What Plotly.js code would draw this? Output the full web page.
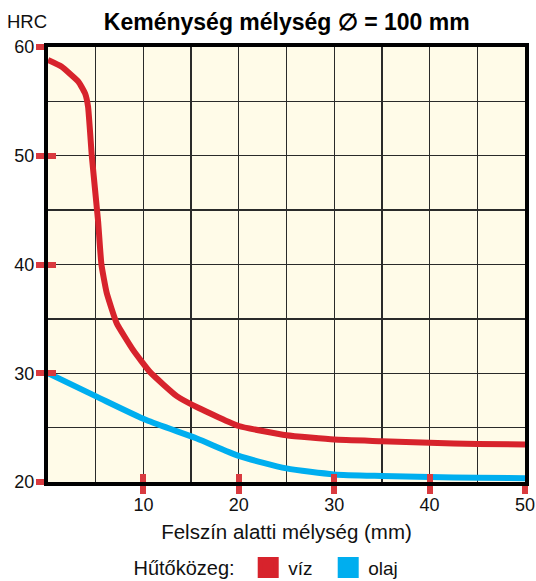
<!DOCTYPE html>
<html>
<head>
<meta charset="utf-8">
<script src="https://cdn.plot.ly/plotly-3.0.1.min.js"></script>
<style>html,body{margin:0;padding:0;background:#fff;}#chart{width:536px;height:581px;}</style>
</head>
<body>
<div id="chart"></div>
<script>
// Data
const depthViz = [0, 1.4, 3.2, 3.9, 4.2, 4.6, 5.25, 5.6, 6.15, 7.2, 8.95, 10.7, 13.5, 15.8, 20, 25, 30, 35, 40, 45, 50];
const hrcViz   = [58.8, 58.2, 56.8, 55.7, 54.5, 49.9, 44.0, 40.0, 37.4, 34.6, 32.1, 30.1, 27.9, 26.8, 25.15, 24.3, 23.9, 23.75, 23.6, 23.5, 23.45];
const depthOlaj = [0, 5.1, 10.3, 15.6, 20, 25, 30, 35, 40, 45, 50];
const hrcOlaj   = [30.0, 27.85, 25.7, 24.0, 22.4, 21.25, 20.7, 20.55, 20.45, 20.4, 20.35];
const seriesNames = ['víz', 'olaj'];
const xTickVals = [10, 20, 30, 40, 50];
const yTickVals = [20, 30, 40, 50, 60];

const RED = '#d7232c';
const BLUE = '#00aeef';
const TICKRED = '#d93a3f';
const FONT = 'Liberation Sans, Arial, Helvetica, sans-serif';

const traces = [
  {x: depthViz, y: hrcViz, mode: 'lines', line: {color: RED, width: 6, shape: 'spline', smoothing: 0.4}, showlegend: false, hoverinfo: 'skip'},
  {x: depthOlaj, y: hrcOlaj, mode: 'lines', line: {color: BLUE, width: 6, shape: 'spline', smoothing: 0.6}, showlegend: false, hoverinfo: 'skip'},
  {x: [null], y: [null], xaxis: 'x2', yaxis: 'y2', mode: 'markers', name: seriesNames[0],
   marker: {symbol: 'square', size: 16, color: RED, line: {color: RED, width: 5}}},
  {x: [null], y: [null], xaxis: 'x2', yaxis: 'y2', mode: 'markers', name: seriesNames[1],
   marker: {symbol: 'square', size: 16, color: BLUE, line: {color: BLUE, width: 5}}}
];

const gridColor = '#2a2a2a';
const layout = {
  width: 536, height: 581,
  margin: {l: 48, r: 11, t: 47, b: 99, autoexpand: false},
  paper_bgcolor: '#ffffff',
  plot_bgcolor: '#fffbe8',
  font: {family: FONT, color: '#111', size: 17},
  title: {text: '<b>Keménység mélység ∅ = 100 mm</b>', x: 0.535, xref: 'container', xanchor: 'center',
          y: 1 - 22/581, yref: 'container', yanchor: 'middle',
          font: {family: FONT, size: 23, color: '#000'}},
  xaxis: {
    range: [0, 50], tickmode: 'array', tickvals: xTickVals, ticktext: xTickVals.map(String),
    ticks: 'outside', ticklen: 8, tickwidth: 6, tickcolor: TICKRED, ticklabelstandoff: -5,
    showline: true, linecolor: '#000', linewidth: 4, mirror: true,
    showgrid: true, gridcolor: gridColor, gridwidth: 1.3, zeroline: false,
    minor: {tickmode: 'linear', tick0: 0, dtick: 5, showgrid: true, gridcolor: gridColor, gridwidth: 1.3, ticks: ''},
    tickfont: {size: 18, family: FONT, color: '#111'},
    title: {text: 'Felszín alatti mélység (mm)', standoff: 12, font: {size: 20.5, family: FONT, color: '#111'}},
    automargin: false, fixedrange: true
  },
  yaxis: {
    range: [20, 60], tickmode: 'array', tickvals: yTickVals, ticktext: yTickVals.map(String),
    ticks: 'outside', ticklen: 8, tickwidth: 6, tickcolor: TICKRED, ticklabelstandoff: -2,
    showline: true, linecolor: '#000', linewidth: 4, mirror: true,
    showgrid: true, gridcolor: gridColor, gridwidth: 1.3, zeroline: false,
    minor: {tickmode: 'linear', tick0: 0, dtick: 5, showgrid: true, gridcolor: gridColor, gridwidth: 1.3, ticks: ''},
    tickfont: {size: 18, family: FONT, color: '#111'},
    automargin: false, fixedrange: true
  },
  xaxis2: {
    overlaying: 'x', matches: 'x', side: 'bottom', anchor: 'y2',
    tickmode: 'array', tickvals: xTickVals, showticklabels: false,
    ticks: 'inside', ticklen: 8, tickwidth: 6, tickcolor: TICKRED,
    showgrid: false, zeroline: false, showline: false, automargin: false
  },
  yaxis2: {
    overlaying: 'y', matches: 'y', side: 'left', anchor: 'x2',
    tickmode: 'array', tickvals: yTickVals, showticklabels: false,
    ticks: 'inside', ticklen: 8, tickwidth: 6, tickcolor: TICKRED,
    showgrid: false, zeroline: false, showline: false, automargin: false
  },
  legend: {
    orientation: 'h', x: 0.175, xanchor: 'left', y: -0.197, yanchor: 'middle',
    font: {size: 19, family: FONT, color: '#111'},
    title: {text: 'Hűtőközeg: ', side: 'left', font: {size: 20, family: FONT, color: '#111'}},
    itemwidth: 30, entrywidth: 35, bgcolor: 'rgba(0,0,0,0)'
  },
  annotations: [
    {text: 'HRC', xref: 'paper', yref: 'paper', x: -43/477, xanchor: 'left', y: 1 + 25/435, yanchor: 'middle',
     showarrow: false, font: {size: 18.5, family: FONT, color: '#111'}}
  ],
  showlegend: true
};

Plotly.newPlot('chart', traces, layout, {staticPlot: true, displayModeBar: false});
</script>
</body>
</html>
